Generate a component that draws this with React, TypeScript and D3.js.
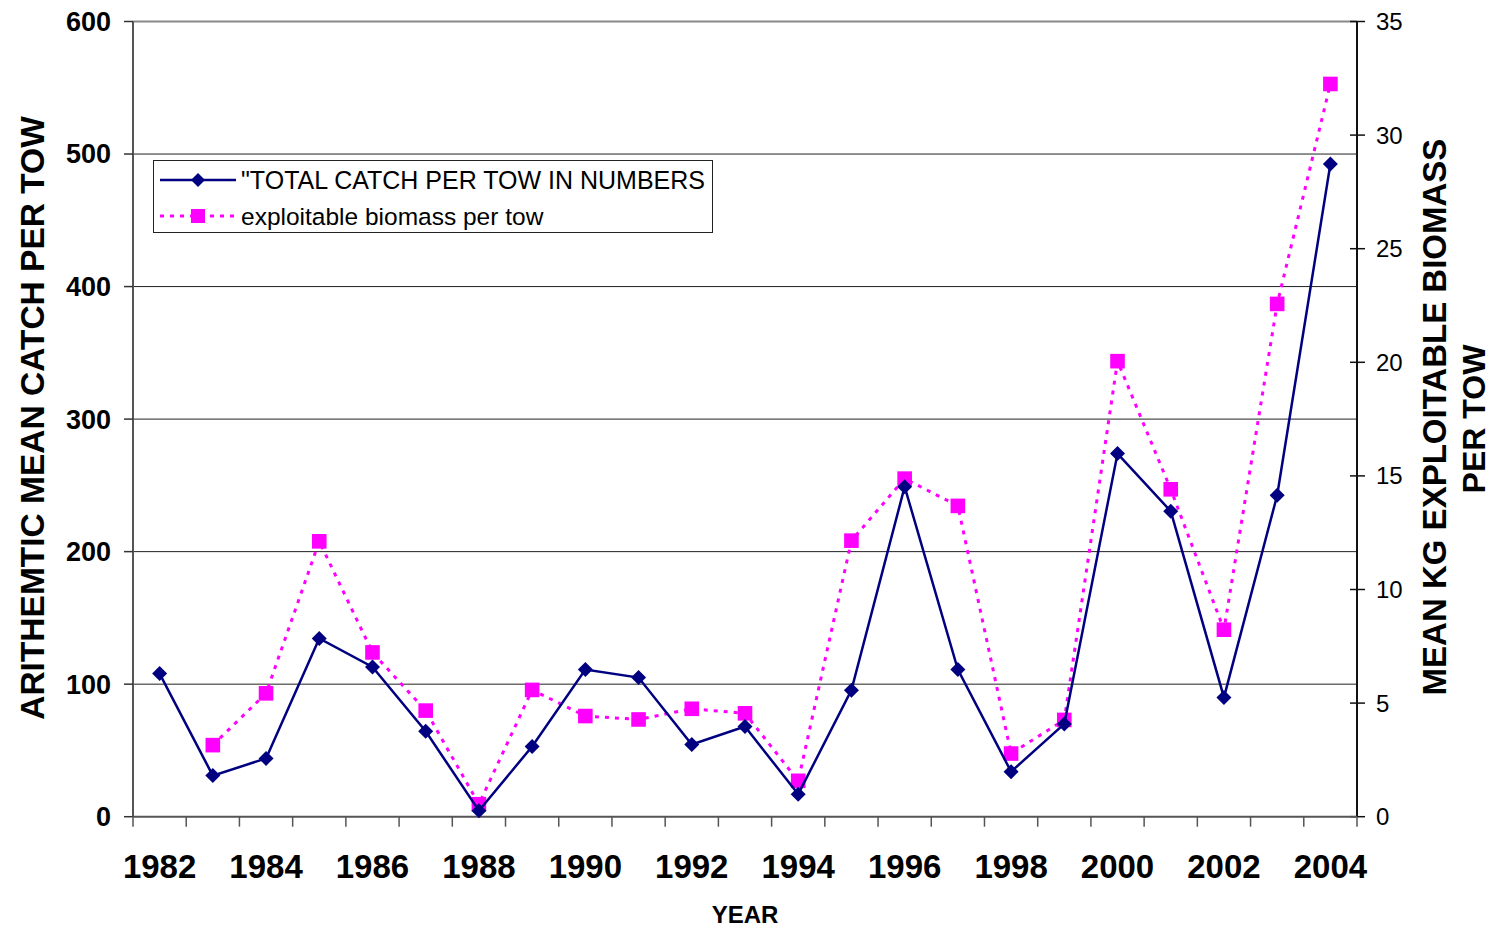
import React from "react";
import * as d3 from "d3";

const years = ["1982","1983","1984","1985","1986","1987","1988","1989","1990","1991","1992","1993","1994","1995","1996","1997","1998","1999","2000","2001","2002","2003","2004"];
const totalCatch = [108, 31, 44, 134.5, 113, 64.5, 4.5, 53, 111, 105, 54.5, 68, 17, 95.5, 249, 111, 34, 70, 274, 230.5, 90, 242.5, 492.5];
const biomass: (number | null)[] = [null, 3.15, 5.43, 12.12, 7.23, 4.67, 0.55, 5.58, 4.43, 4.28, 4.75, 4.55, 1.58, 12.15, 14.88, 13.68, 2.78, 4.26, 20.05, 14.41, 8.23, 22.57, 32.25];
const leftTicks = [0, 100, 200, 300, 400, 500, 600];
const rightTicks = [0, 5, 10, 15, 20, 25, 30, 35];
const yearLabels = ["1982","1984","1986","1988","1990","1992","1994","1996","1998","2000","2002","2004"];

const W = 1492, H = 928;
const L = 133, R = 1357, T = 21.5, B = 816.7;
const FONT = "'Liberation Sans', Arial, Helvetica, sans-serif";

export default function App() {
  const x = d3.scaleBand().domain(years).range([L, R]).paddingInner(0).paddingOuter(0);
  const cx = (y: string) => (x(y) as number) + x.bandwidth() / 2;
  const yL = d3.scaleLinear().domain([0, 600]).range([B, T]);
  const yR = d3.scaleLinear().domain([0, 35]).range([B, T]);

  const lineL = d3.line<number>().x((_, i) => cx(years[i])).y((d) => yL(d));
  const bioPts = biomass.map((v, i) => ({ v, y: years[i] })).filter((d) => d.v !== null) as { v: number; y: string }[];
  const lineR = d3.line<{ v: number; y: string }>().x((d) => cx(d.y)).y((d) => yR(d.v));

  const boundaries = d3.range(years.length + 1).map((i) => L + i * x.bandwidth());
  const navy = "#000080";
  const mag = "#FF00FF";
  const diamond = (px: number, py: number, s = 7.5) => `M${px},${py - s}L${px + s},${py}L${px},${py + s}L${px - s},${py}Z`;

  return (
    <div style={{ position: "absolute", left: 0, top: 0 }}>
      <svg width={W} height={H} style={{ display: "block", background: "#fff" }} fontFamily={FONT}>
        {/* gridlines */}
        {leftTicks.filter((t) => t > 0 && t < 600).map((t) => (
          <line key={t} x1={L} x2={R} y1={yL(t)} y2={yL(t)} stroke="#222" strokeWidth={1} />
        ))}
        <line x1={L} x2={R} y1={yL(600)} y2={yL(600)} stroke="#888" strokeWidth={2} />
        {/* left axis */}
        <line x1={L} x2={L} y1={T} y2={B} stroke="#555" strokeWidth={2} />
        {leftTicks.map((t) => (
          <g key={t}>
            <line x1={L - 9} x2={L} y1={yL(t)} y2={yL(t)} stroke="#333" strokeWidth={1.5} />
            <text x={111} y={yL(t)} dy="0.35em" textAnchor="end" fontWeight="bold" fontSize={27}>{t}</text>
          </g>
        ))}
        {/* right axis */}
        <line x1={R} x2={R} y1={T} y2={B} stroke="#111" strokeWidth={2} />
        {rightTicks.map((t) => (
          <g key={t}>
            <line x1={R - 7} x2={R + 8} y1={yR(t)} y2={yR(t)} stroke="#111" strokeWidth={1.5} />
            <text x={1376} y={yR(t)} dy="0.35em" textAnchor="start" fontSize={24}>{t}</text>
          </g>
        ))}
        {/* bottom axis */}
        <line x1={L} x2={R} y1={B} y2={B} stroke="#555" strokeWidth={2} />
        {boundaries.map((bx, i) => (
          <line key={i} x1={bx} x2={bx} y1={B} y2={B + 10} stroke="#555" strokeWidth={1.5} />
        ))}
        {yearLabels.map((y) => (
          <text key={y} x={cx(y)} y={878} textAnchor="middle" fontWeight="bold" fontSize={33}>{y}</text>
        ))}
        <text x={745} y={923} textAnchor="middle" fontWeight="bold" fontSize={24}>YEAR</text>
        {/* axis titles */}
        <text transform={`translate(44,418) rotate(-90)`} textAnchor="middle" fontWeight="bold" fontSize={33.5}>ARITHEMTIC MEAN CATCH PER TOW</text>
        <text transform={`translate(1446,417) rotate(-90)`} textAnchor="middle" fontWeight="bold" fontSize={33}>MEAN KG EXPLOITABLE BIOMASS</text>
        <text transform={`translate(1485,419) rotate(-90)`} textAnchor="middle" fontWeight="bold" fontSize={32}>PER TOW</text>
        {/* biomass series */}
        <path d={lineR(bioPts) || ""} fill="none" stroke={mag} strokeWidth={3} strokeDasharray="4 6" />
        {bioPts.map((d) => (
          <rect key={d.y} x={cx(d.y) - 7.3} y={yR(d.v) - 7.3} width={14.6} height={14.6} fill={mag} />
        ))}
        {/* total catch series */}
        <path d={lineL(totalCatch) || ""} fill="none" stroke={navy} strokeWidth={2.5} />
        {totalCatch.map((v, i) => (
          <path key={i} d={diamond(cx(years[i]), yL(v))} fill={navy} />
        ))}
        {/* legend */}
        <rect x={153.5} y={160.5} width={559} height={72} fill="#fff" stroke="#222" strokeWidth={1} />
        <line x1={160} x2={236} y1={180} y2={180} stroke={navy} strokeWidth={2.5} />
        <path d={diamond(198, 180, 7)} fill={navy} />
        <text x={241} y={180} dy="0.36em" fontSize={25}>"TOTAL CATCH PER TOW IN NUMBERS</text>
        <line x1={160} x2={236} y1={216} y2={216} stroke={mag} strokeWidth={3} strokeDasharray="4 6" />
        <rect x={191} y={209} width={14} height={14} fill={mag} />
        <text x={241} y={216} dy="0.36em" fontSize={24.5}>exploitable biomass per tow</text>
      </svg>
    </div>
  );
}
